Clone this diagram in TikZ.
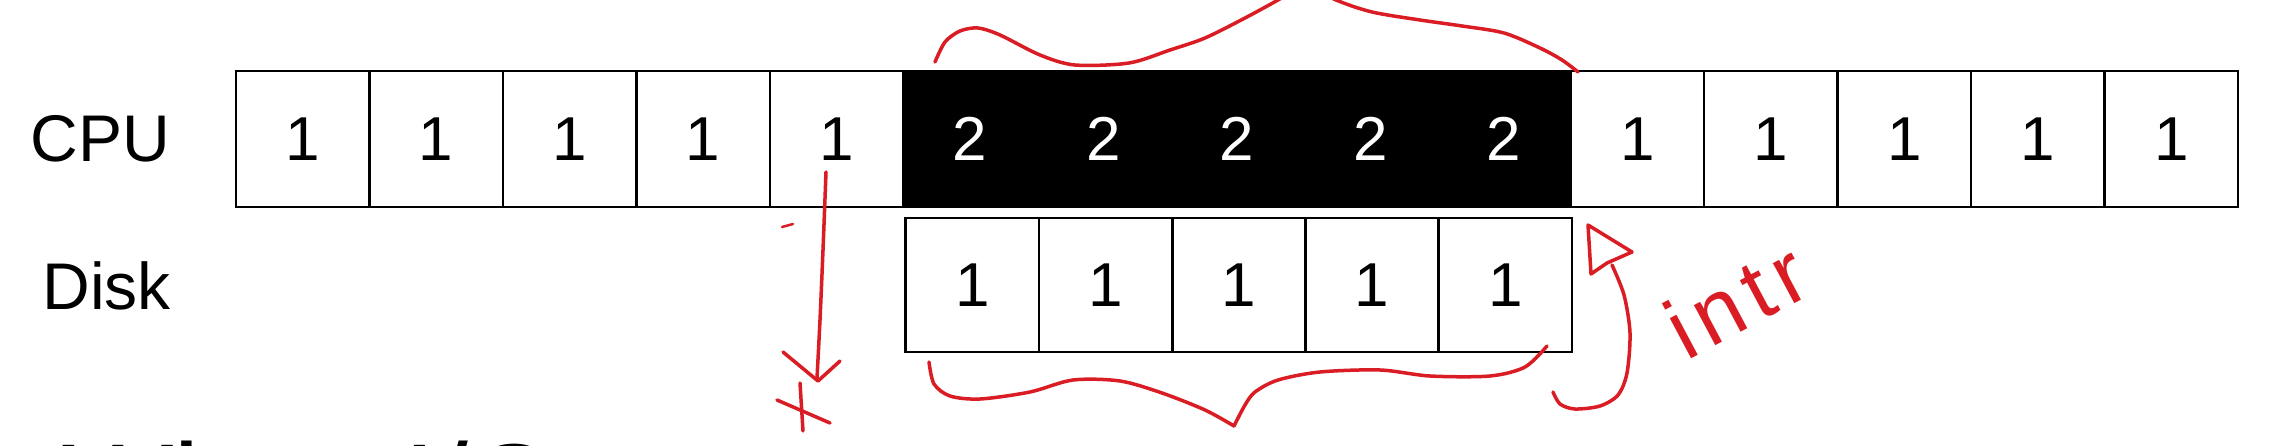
\documentclass[tikz,border=0pt]{standalone}
\usepackage{fontspec}
\setmainfont{Liberation Sans}
\newfontfamily\handfont[LetterSpace=10]{Liberation Sans}
\definecolor{handred}{RGB}{218,28,36}
\begin{document}
\begin{tikzpicture}[x=1pt,y=-1pt,
  cellbox/.style={draw=black, line width=2.5pt, minimum width=133.5pt, minimum height=136pt, inner sep=0pt, font=\fontsize{62}{62}\selectfont},
  busy/.style={cellbox, fill=black, text=white},
  diskbox/.style={cellbox, minimum height=134pt},
  rowlabel/.style={anchor=east, inner sep=0pt, font=\fontsize{66}{66}\selectfont},
  ink/.style={draw=handred, line width=3.5pt, line cap=round, line join=round},
]
\useasboundingbox (0,0) rectangle (2278,446);
\clip (0,0) rectangle (2278,446);
\fill[white] (0,0) rectangle (2278,446);

% row labels
\node[rowlabel] (cpu) at (170,139) {CPU};
\node[rowlabel] (disk) at (171,286) {Disk};

% CPU cells
\foreach \i in {1,2,3,4,5,11,12,13,14,15}
  \node[cellbox] (c\i) at ({236+(\i-0.5)*133.47},139) {1};
\foreach \i in {6,7,8,9,10}
  \node[busy] (c\i) at ({236+(\i-0.5)*133.47},139) {2};

% Disk cells
\foreach \i in {1,...,5}
  \node[diskbox] (d\i) at ({905.6+(\i-0.5)*133.3},285) {1};

% clipped text at the bottom
\node[anchor=base west, inner sep=0pt, font=\fontsize{118}{118}\selectfont] (bottomtext) at (62,526) {When I/O};

% handwritten annotations
% top brace over the busy CPU cells
\draw[ink] plot[smooth] coordinates {(935,62) (945,42) (960,31) (978,28) (1000,35) (1040,55) (1075,65) (1129,63) (1170,50) (1205,38) (1245,18) (1278,0) (1305,-16)};
\draw[ink] plot[smooth] coordinates {(1305,-16) (1336,0) (1372,12) (1420,20) (1462,26) (1504,33) (1540,48) (1562,60) (1578,72)};

% bottom brace under the disk cells
\draw[ink] plot[smooth] coordinates {(929,362) (934,384) (950,396) (980,399) (1030,392) (1073,380) (1120,381) (1162,393) (1205,410) (1234,426)};
\draw[ink] plot[smooth] coordinates {(1234,426) (1245,405) (1255,392) (1278,380) (1320,372) (1380,370) (1430,376) (1490,376) (1525,367) (1547,346)};

% arrow down from CPU cell 5
\coordinate (dstart) at (826,172);
\coordinate (dtip) at (818,381);
\draw[ink] plot[smooth] coordinates {(dstart) (823,250) (820,320) (817,378)};
\draw[ink] (783,352) -- (dtip) -- (840,361);
\draw[ink] (800,383) -- (803,431);
\draw[ink] (777,400) -- (830,423);
\draw[ink, line width=2.5pt] (782,227) -- (793,224);

% interrupt arrow
\coordinate (itip) at (1588,225);
\draw[ink] plot[smooth] coordinates {(1553,392) (1560,404) (1575,409) (1600,406) (1618,395) (1627,373) (1630,333) (1624,295) (1612,265)};
\draw[ink] (1607,263) -- (1591,274) -- (itip) -- (1632,252) -- cycle;
\node[text=handred, rotate=28, inner sep=0pt, font=\handfont\fontsize{86}{86}\selectfont] (intr) at (1736,300) {intr};
\end{tikzpicture}
\end{document}
